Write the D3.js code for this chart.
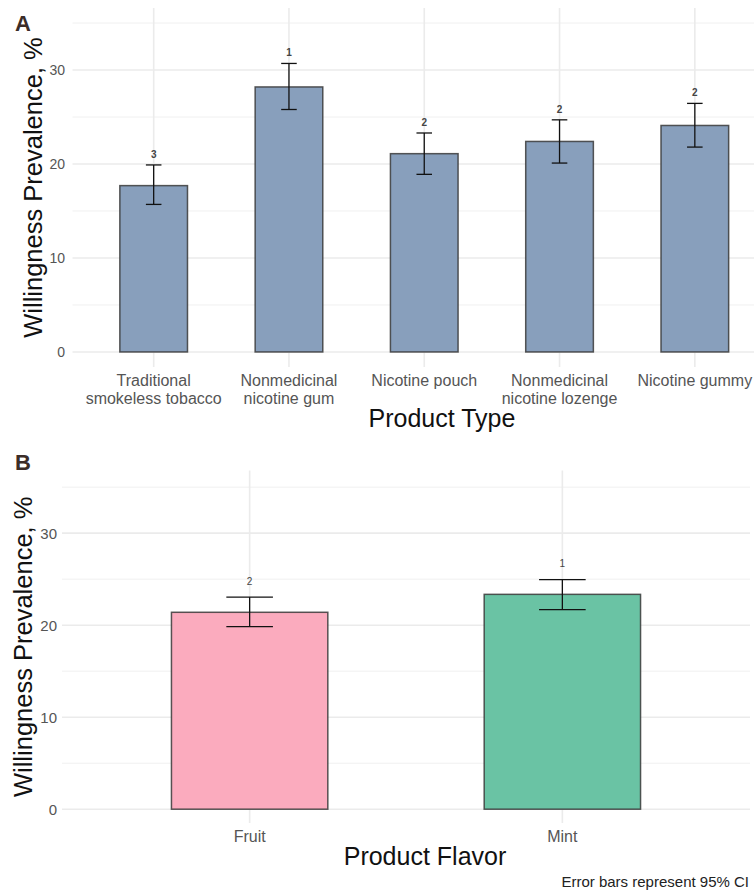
<!DOCTYPE html>
<html>
<head>
<meta charset="utf-8">
<script src="https://cdn.jsdelivr.net/npm/d3@7"></script>
<style>
  body { margin: 0; background: #fff; }
  svg { display: block; font-family: "Liberation Sans", Arial, sans-serif; }
</style>
</head>
<body>
<div id="chart"></div>
<script>
// Panel A data
const typeCategories = [
  ["Traditional", "smokeless tobacco"],
  ["Nonmedicinal", "nicotine gum"],
  ["Nicotine pouch"],
  ["Nonmedicinal", "nicotine lozenge"],
  ["Nicotine gummy"]
];
const typeValues = [17.7, 28.2, 21.1, 22.4, 24.1];
const typeLower = [15.7, 25.8, 18.9, 20.1, 21.8];
const typeUpper = [19.9, 30.7, 23.3, 24.7, 26.45];
const typeRanks = ["3", "1", "2", "2", "2"];

// Panel B data
const flavorCategories = [["Fruit"], ["Mint"]];
const flavorValues = [21.4, 23.35];
const flavorLower = [19.85, 21.7];
const flavorUpper = [23.05, 24.95];
const flavorRanks = ["2", "1"];

const yTicks = [0, 10, 20, 30];

const W = 754, H = 893;
const svg = d3.select("#chart").append("svg")
  .attr("width", W)
  .attr("height", H);

function drawPanel(cfg) {
  const g = svg.append("g");
  const keys = cfg.categories.map((d, i) => "c" + i);

  const x = d3.scalePoint()
    .domain(keys)
    .range(cfg.xRange)
    .padding(0.6);
  const step = x.step();

  const y = d3.scaleLinear()
    .domain(cfg.yDomain)
    .range(cfg.yRange);

  const [top, bottom] = [cfg.yRange[1], cfg.yRange[0]];
  const [left, right] = cfg.xRange;

  // minor gridlines
  const minor = [5, 15, 25, 35];
  g.selectAll(".minor")
    .data(minor)
    .enter()
    .append("line")
    .attr("x1", left).attr("x2", right)
    .attr("y1", (d) => y(d)).attr("y2", (d) => y(d))
    .attr("stroke", "#f0f0f0")
    .attr("stroke-width", 1);

  // major gridlines
  g.selectAll(".major")
    .data(yTicks)
    .enter()
    .append("line")
    .attr("x1", left).attr("x2", right)
    .attr("y1", (d) => y(d)).attr("y2", (d) => y(d))
    .attr("stroke", "#ebebeb")
    .attr("stroke-width", 1.6);

  g.selectAll(".vgrid")
    .data(keys)
    .enter()
    .append("line")
    .attr("x1", (d) => x(d)).attr("x2", (d) => x(d))
    .attr("y1", top).attr("y2", bottom)
    .attr("stroke", "#ebebeb")
    .attr("stroke-width", 1.6);

  // bars
  const barW = step * 0.5;
  g.selectAll(".bar")
    .data(cfg.values)
    .enter()
    .append("rect")
    .attr("x", (d, i) => x(keys[i]) - barW / 2)
    .attr("y", (d) => y(d))
    .attr("width", barW)
    .attr("height", (d) => y(0) - y(d))
    .attr("fill", (d, i) => cfg.colors[i % cfg.colors.length])
    .attr("stroke", "#3a3a3a")
    .attr("stroke-opacity", 0.85)
    .attr("stroke-width", 1.5);

  // error bars
  const capW = step * cfg.capFrac;
  cfg.values.forEach((v, i) => {
    const cx = x(keys[i]);
    const lo = y(cfg.lower[i]), hi = y(cfg.upper[i]);
    g.append("line")
      .attr("x1", cx).attr("x2", cx)
      .attr("y1", lo).attr("y2", hi)
      .attr("stroke", "#111").attr("stroke-width", 1.3);
    [lo, hi].forEach((py) => {
      g.append("line")
        .attr("x1", cx - capW / 2).attr("x2", cx + capW / 2)
        .attr("y1", py).attr("y2", py)
        .attr("stroke", "#111").attr("stroke-width", 1.3);
    });
    g.append("text")
      .attr("x", cx)
      .attr("y", hi - cfg.rankOffset)
      .attr("text-anchor", "middle")
      .attr("font-size", "10px")
      .attr("font-weight", cfg.rankWeight)
      .attr("fill", "#444")
      .text(cfg.ranks[i]);
  });

  // y axis tick labels
  g.selectAll(".ytick")
    .data(yTicks)
    .enter()
    .append("text")
    .attr("x", cfg.yTickX)
    .attr("y", (d) => y(d))
    .attr("dy", "0.36em")
    .attr("text-anchor", "end")
    .attr("font-size", cfg.yTickSize)
    .attr("fill", "#555")
    .text((d) => d);

  // x axis tick labels
  cfg.categories.forEach((lines, i) => {
    const t = g.append("text")
      .attr("x", x(keys[i]))
      .attr("y", cfg.xTickY)
      .attr("text-anchor", "middle")
      .attr("font-size", "16px")
      .attr("fill", "#555");
    lines.forEach((ln, j) => {
      t.append("tspan")
        .attr("x", x(keys[i]))
        .attr("dy", j === 0 ? 0 : 18.5)
        .text(ln);
    });
  });

  // axis titles
  g.append("text")
    .attr("x", cfg.xTitle[0])
    .attr("y", cfg.xTitle[1])
    .attr("text-anchor", "middle")
    .attr("font-size", "25px")
    .attr("fill", "#111")
    .text(cfg.xLabel);

  g.append("text")
    .attr("transform", `translate(${cfg.yTitleX},${(top + bottom) / 2}) rotate(-90)`)
    .attr("dy", "0.36em")
    .attr("text-anchor", "middle")
    .attr("font-size", "25.5px")
    .attr("fill", "#111")
    .text("Willingness Prevalence, %");

  // panel letter
  g.append("text")
    .attr("x", 15)
    .attr("y", cfg.letterY)
    .attr("font-size", "22px")
    .attr("font-weight", "bold")
    .attr("fill", "#3b2d28")
    .text(cfg.letter);
}

drawPanel({
  categories: typeCategories,
  values: typeValues,
  lower: typeLower,
  upper: typeUpper,
  ranks: typeRanks,
  colors: ["#889fbc"],
  xRange: [72.5, 776],
  yDomain: [-1.6, 36.6],
  yRange: [367, 8],
  capFrac: 0.115,
  rankOffset: 7,
  rankWeight: "bold",
  yTickX: 65,
  yTickSize: "14px",
  xTickY: 385.5,
  xTitle: [442, 427],
  xLabel: "Product Type",
  yTitleX: 33,
  letter: "A",
  letterY: 31
});

drawPanel({
  categories: flavorCategories,
  values: flavorValues,
  lower: flavorLower,
  upper: flavorUpper,
  ranks: flavorRanks,
  colors: ["#fbabbe", "#6ac3a4"],
  xRange: [62, 750],
  yDomain: [-1.5, 36.8],
  yRange: [823, 470.6],
  capFrac: 0.149,
  rankOffset: 12.5,
  rankWeight: "normal",
  yTickX: 57,
  yTickSize: "15px",
  xTickY: 842,
  xTitle: [425, 865],
  xLabel: "Product Flavor",
  yTitleX: 23,
  letter: "B",
  letterY: 470
});

// caption
svg.append("text")
  .attr("x", 749)
  .attr("y", 887)
  .attr("text-anchor", "end")
  .attr("font-size", "15px")
  .attr("fill", "#222")
  .text("Error bars represent 95% CI");
</script>
</body>
</html>
